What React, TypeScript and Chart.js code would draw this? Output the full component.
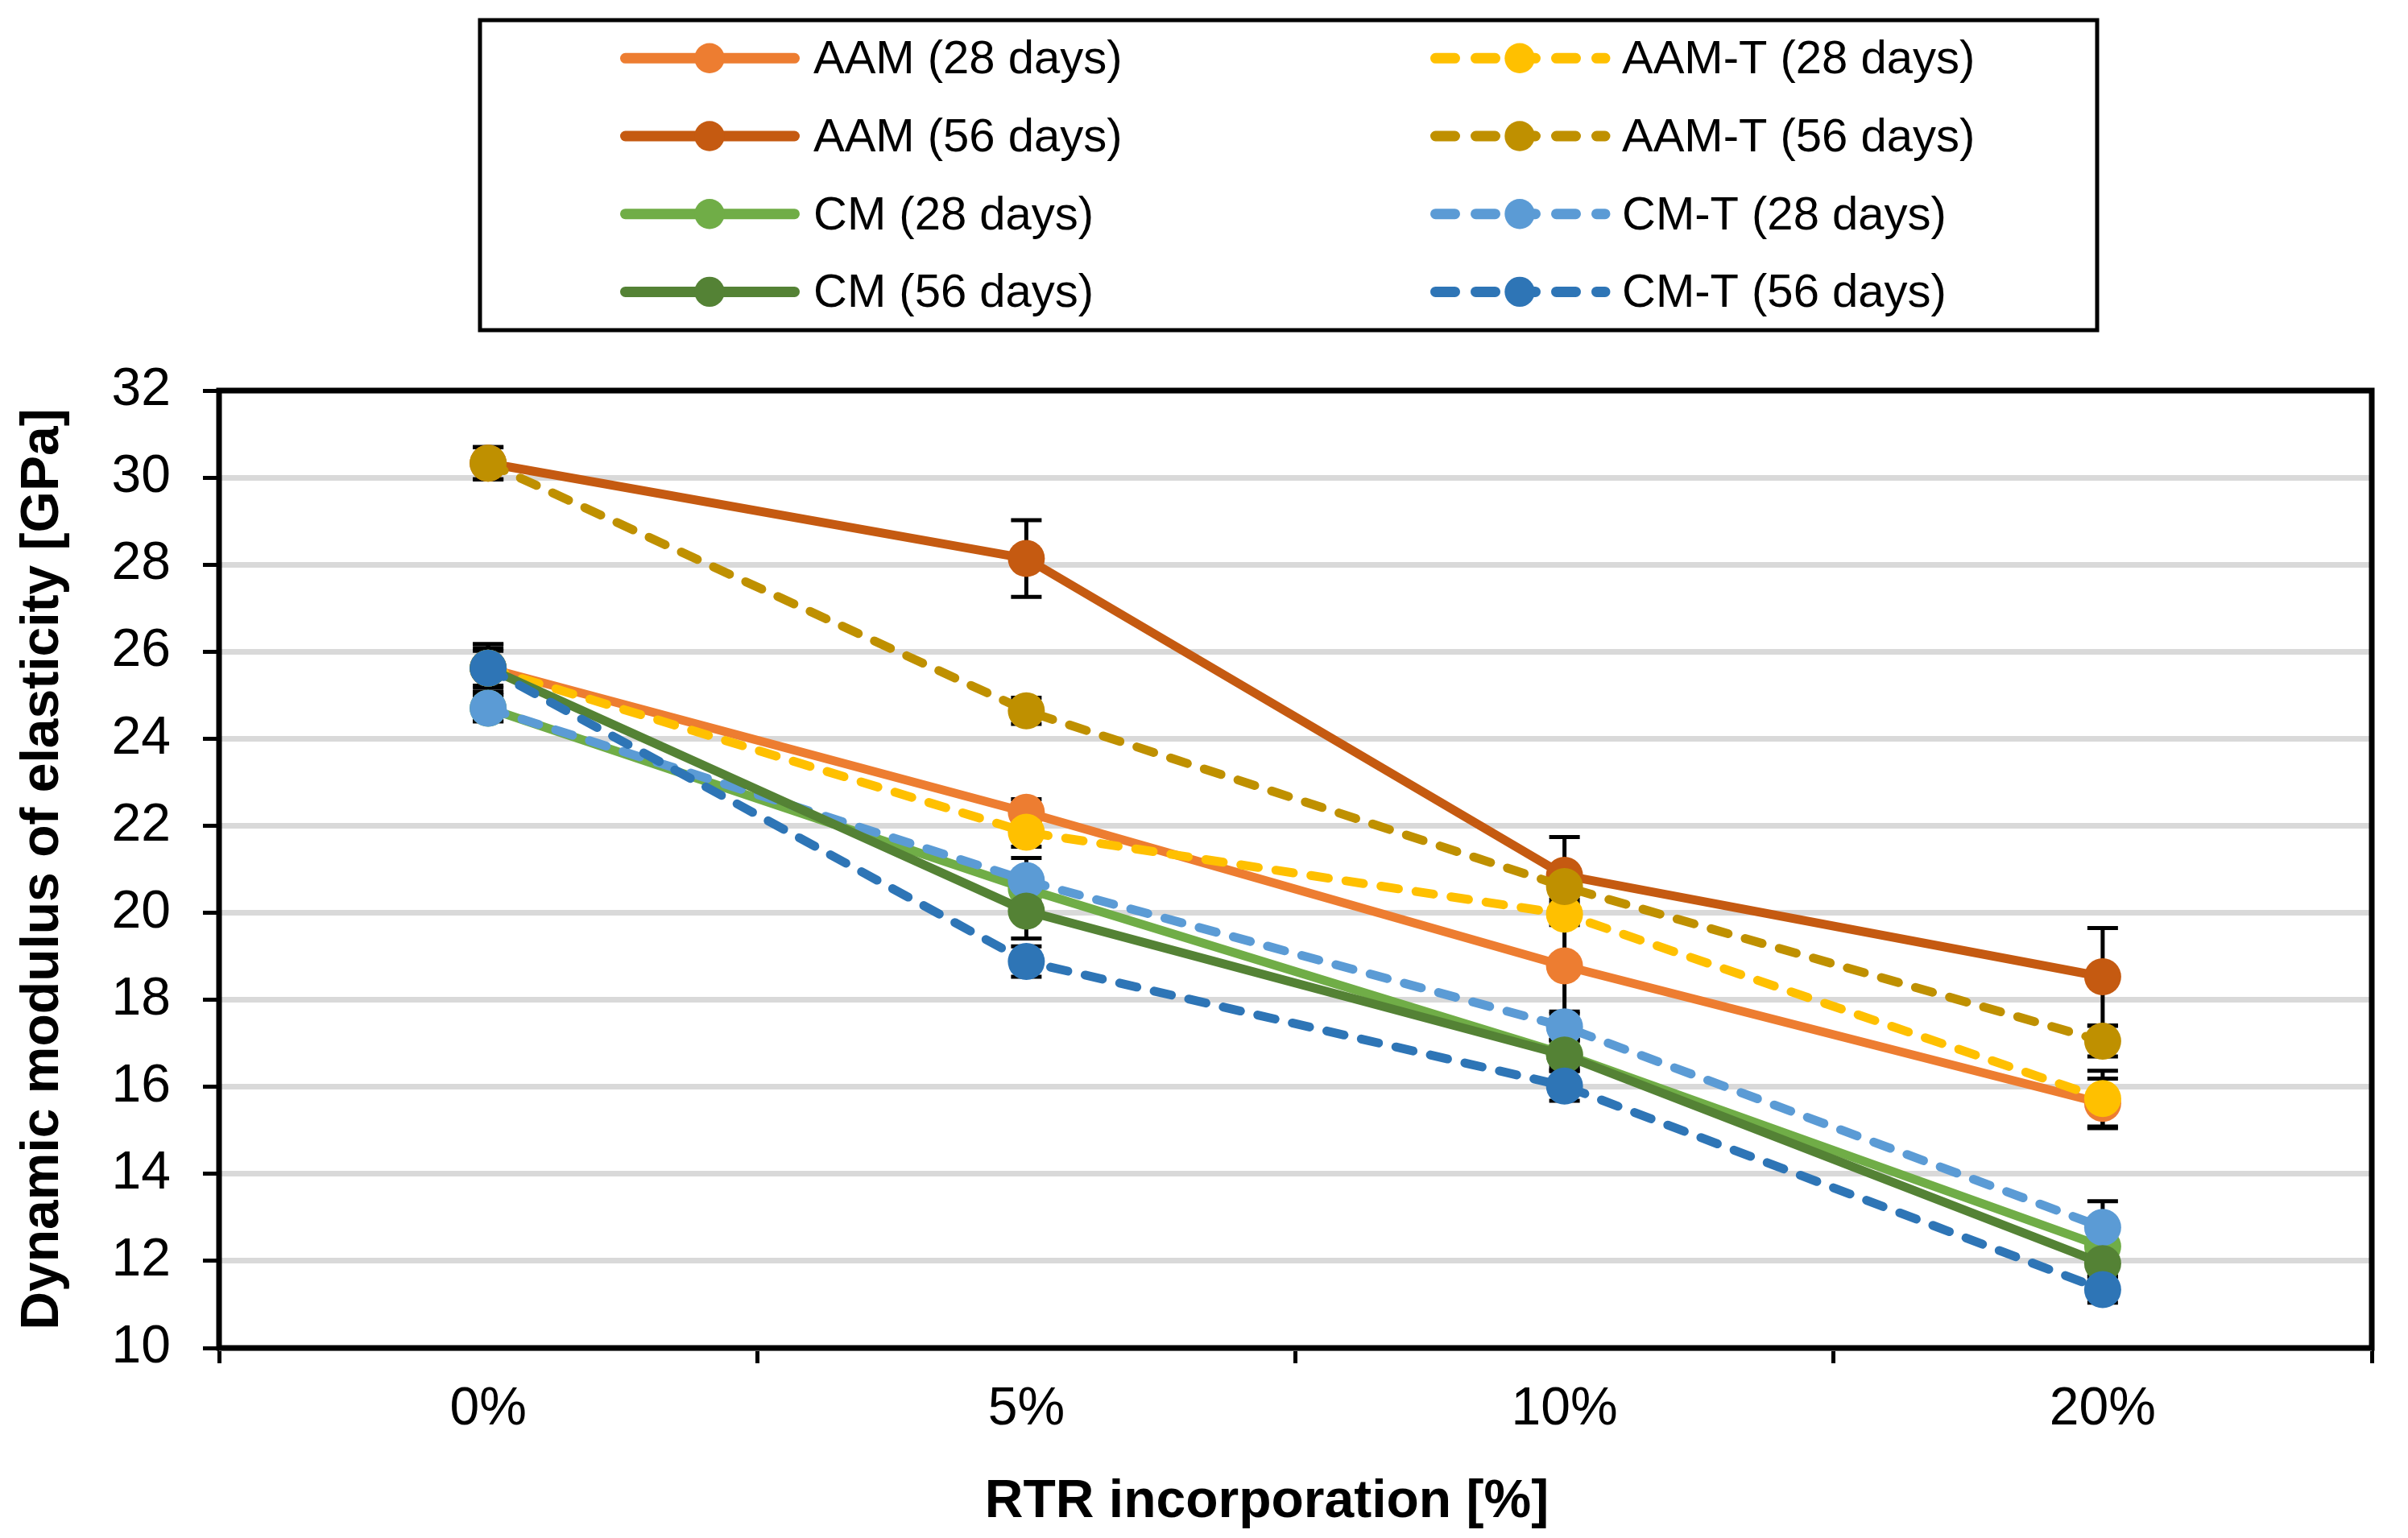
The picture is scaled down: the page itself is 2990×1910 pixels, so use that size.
import { useEffect, useRef } from "react"
import { Chart, registerables } from "chart.js"

Chart.register(...registerables)

const categories = ["0%", "5%", "10%", "20%"]

// values [GPa] and error bar half-widths
const aam28 = [25.62, 22.31, 18.78, 15.62]
const aam28Err = [0.55, 0.3, 1.05, 0.57]
const aamT28 = [25.62, 21.85, 19.97, 15.73]
const aamT28Err = [0.55, 0.33, 0.25, 0.64]
const aam56 = [30.33, 28.14, 20.86, 18.53]
const aam56Err = [0.37, 0.88, 0.88, 1.12]
const aamT56 = [30.33, 24.64, 20.6, 17.05]
const aamT56Err = [0.37, 0.3, 0.3, 0.35]
const cm28 = [24.7, 20.55, 16.75, 12.33]
const cm28Err = [0.3, 0.3, 0.3, 0.3]
const cmT28 = [24.7, 20.74, 17.38, 12.77]
const cmT28Err = [0.3, 0.52, 0.3, 0.6]
const cm56 = [25.62, 20.04, 16.73, 11.94]
const cm56Err = [0.45, 0.63, 0.35, 0.3]
const cmT56 = [25.62, 18.88, 16.02, 11.34]
const cmT56Err = [0.4, 0.35, 0.34, 0.3]

const yTicksMin = 10
const yTicksMax = 32
const yTickStep = 2

const xTitle = "RTR incorporation [%]"
const yTitle = "Dynamic modulus of elasticity [GPa]"

// legend order is row-wise: left column, right column
const series = [
  { label: "AAM (28 days)", data: aam28, err: aam28Err, color: "#ED7D31", dashed: false },
  { label: "AAM-T (28 days)", data: aamT28, err: aamT28Err, color: "#FFC000", dashed: true },
  { label: "AAM (56 days)", data: aam56, err: aam56Err, color: "#C55A11", dashed: false },
  { label: "AAM-T (56 days)", data: aamT56, err: aamT56Err, color: "#BF9000", dashed: true },
  { label: "CM (28 days)", data: cm28, err: cm28Err, color: "#70AD47", dashed: false },
  { label: "CM-T (28 days)", data: cmT28, err: cmT28Err, color: "#5B9BD5", dashed: true },
  { label: "CM (56 days)", data: cm56, err: cm56Err, color: "#548235", dashed: false },
  { label: "CM-T (56 days)", data: cmT56, err: cmT56Err, color: "#2E75B6", dashed: true },
]

const FONT = "'Liberation Sans', Arial, sans-serif"

const errorBarsPlugin = {
  id: "errorBars",
  beforeDatasetsDraw(chart: any) {
    const { ctx, chartArea } = chart
    const yScale = chart.scales.y
    ctx.save()
    ctx.beginPath()
    ctx.rect(chartArea.left, chartArea.top, chartArea.right - chartArea.left, chartArea.bottom - chartArea.top)
    ctx.clip()
    ctx.strokeStyle = "#000"
    ctx.lineWidth = 5
    series.forEach((s, i) => {
      const meta = chart.getDatasetMeta(i)
      meta.data.forEach((pt: any, j: number) => {
        const v = s.data[j]
        const e = s.err[j]
        const yTop = yScale.getPixelForValue(v + e)
        const yBot = yScale.getPixelForValue(v - e)
        ctx.beginPath()
        ctx.moveTo(pt.x, yTop)
        ctx.lineTo(pt.x, yBot)
        ctx.moveTo(pt.x - 19, yTop)
        ctx.lineTo(pt.x + 19, yTop)
        ctx.moveTo(pt.x - 19, yBot)
        ctx.lineTo(pt.x + 19, yBot)
        ctx.stroke()
      })
    })
    ctx.restore()
  },
}

const framePlugin = {
  id: "frame",
  afterDraw(chart: any) {
    const { ctx, chartArea } = chart
    ctx.save()
    ctx.strokeStyle = "#000"
    ctx.lineWidth = 7
    ctx.strokeRect(chartArea.left, chartArea.top, chartArea.right - chartArea.left, chartArea.bottom - chartArea.top)

    // axis titles
    ctx.fillStyle = "#000"
    ctx.font = `bold 66px ${FONT}`
    ctx.textAlign = "center"
    ctx.textBaseline = "alphabetic"
    ctx.fillText(xTitle, 1573, 1884)
    ctx.translate(72, (chartArea.top + chartArea.bottom) / 2)
    ctx.rotate(-Math.PI / 2)
    ctx.fillText(yTitle, 0, 0)
    ctx.restore()
  },
}

const legendPlugin = {
  id: "boxLegend",
  afterDraw(chart: any) {
    const ctx = chart.ctx
    ctx.save()
    ctx.strokeStyle = "#000"
    ctx.lineWidth = 5
    ctx.strokeRect(596, 25, 2008, 385)
    ctx.font = `58px ${FONT}`
    ctx.textAlign = "left"
    ctx.textBaseline = "alphabetic"
    series.forEach((s, i) => {
      const col = i % 2
      const row = Math.floor(i / 2)
      const x0 = col === 0 ? 770 : 1776
      const textX = col === 0 ? 1010 : 2014
      const cy = 72.3 + row * 96.7
      ctx.strokeStyle = s.color
      ctx.lineWidth = 13
      ctx.lineCap = "round"
      ctx.beginPath()
      if (s.dashed) {
        ctx.setLineDash([24, 26])
        ctx.moveTo(x0 + 6.5, cy)
        ctx.lineTo(x0 + 217, cy)
      } else {
        ctx.setLineDash([])
        ctx.moveTo(x0 + 6.5, cy)
        ctx.lineTo(x0 + 216.5, cy)
      }
      ctx.stroke()
      ctx.setLineDash([])
      ctx.fillStyle = s.color
      ctx.beginPath()
      ctx.arc(x0 + 111, cy, 18.7, 0, Math.PI * 2)
      ctx.fill()
      ctx.fillStyle = "#000"
      ctx.fillText(s.label, textX, cy + 19)
    })
    ctx.restore()
  },
}

export default function App() {
  const chartRef = useRef<HTMLCanvasElement>(null)
  const chartInstance = useRef<Chart | null>(null)

  useEffect(() => {
    document.body.style.margin = "0"
    if (!chartRef.current) return
    if (chartInstance.current) {
      chartInstance.current.destroy()
    }
    const ctx = chartRef.current.getContext("2d")
    if (!ctx) return

    const tickFont = { family: FONT, size: 66 }

    chartInstance.current = new Chart(ctx, {
      type: "line",
      data: {
        labels: categories,
        datasets: series.map((s, i) => ({
          label: s.label,
          data: s.data,
          borderColor: s.color,
          backgroundColor: s.color,
          borderWidth: 11,
          borderDash: s.dashed ? [22, 22] : [],
          borderCapStyle: s.dashed ? "round" : "butt",
          borderJoinStyle: "round",
          pointRadius: 23,
          pointHoverRadius: 23,
          pointBorderWidth: 0,
          pointBackgroundColor: s.color,
          tension: 0,
          fill: false,
          order: series.length - i,
        })),
      },
      options: {
        responsive: true,
        maintainAspectRatio: false,
        animation: false,
        events: [],
        layout: { padding: { top: 485, right: 45, left: 0, bottom: 0 } },
        plugins: {
          legend: { display: false },
          tooltip: { enabled: false },
        },
        scales: {
          x: {
            type: "category",
            offset: true,
            grid: {
              display: true,
              drawOnChartArea: false,
              offset: true,
              tickLength: 19,
              tickColor: "#000",
              tickWidth: 5,
            },
            border: { display: false },
            ticks: { color: "#000", font: tickFont, padding: 18, maxRotation: 0, autoSkip: false },
            afterFit: (s: any) => {
              s.height = 236
            },
          },
          y: {
            min: yTicksMin,
            max: yTicksMax,
            ticks: { stepSize: yTickStep, color: "#000", font: tickFont, padding: 40 },
            grid: {
              color: "#D9D9D9",
              lineWidth: 7,
              tickLength: 20,
              tickColor: "#000",
              tickWidth: 5,
            },
            border: { display: false },
            afterFit: (s: any) => {
              s.width = 272
            },
          },
        },
      },
      plugins: [errorBarsPlugin, framePlugin, legendPlugin],
    } as any)

    return () => {
      if (chartInstance.current) {
        chartInstance.current.destroy()
        chartInstance.current = null
      }
    }
  }, [])

  return (
    <div style={{ width: "2990px", height: "1910px", position: "relative" }}>
      <canvas ref={chartRef} />
    </div>
  )
}
